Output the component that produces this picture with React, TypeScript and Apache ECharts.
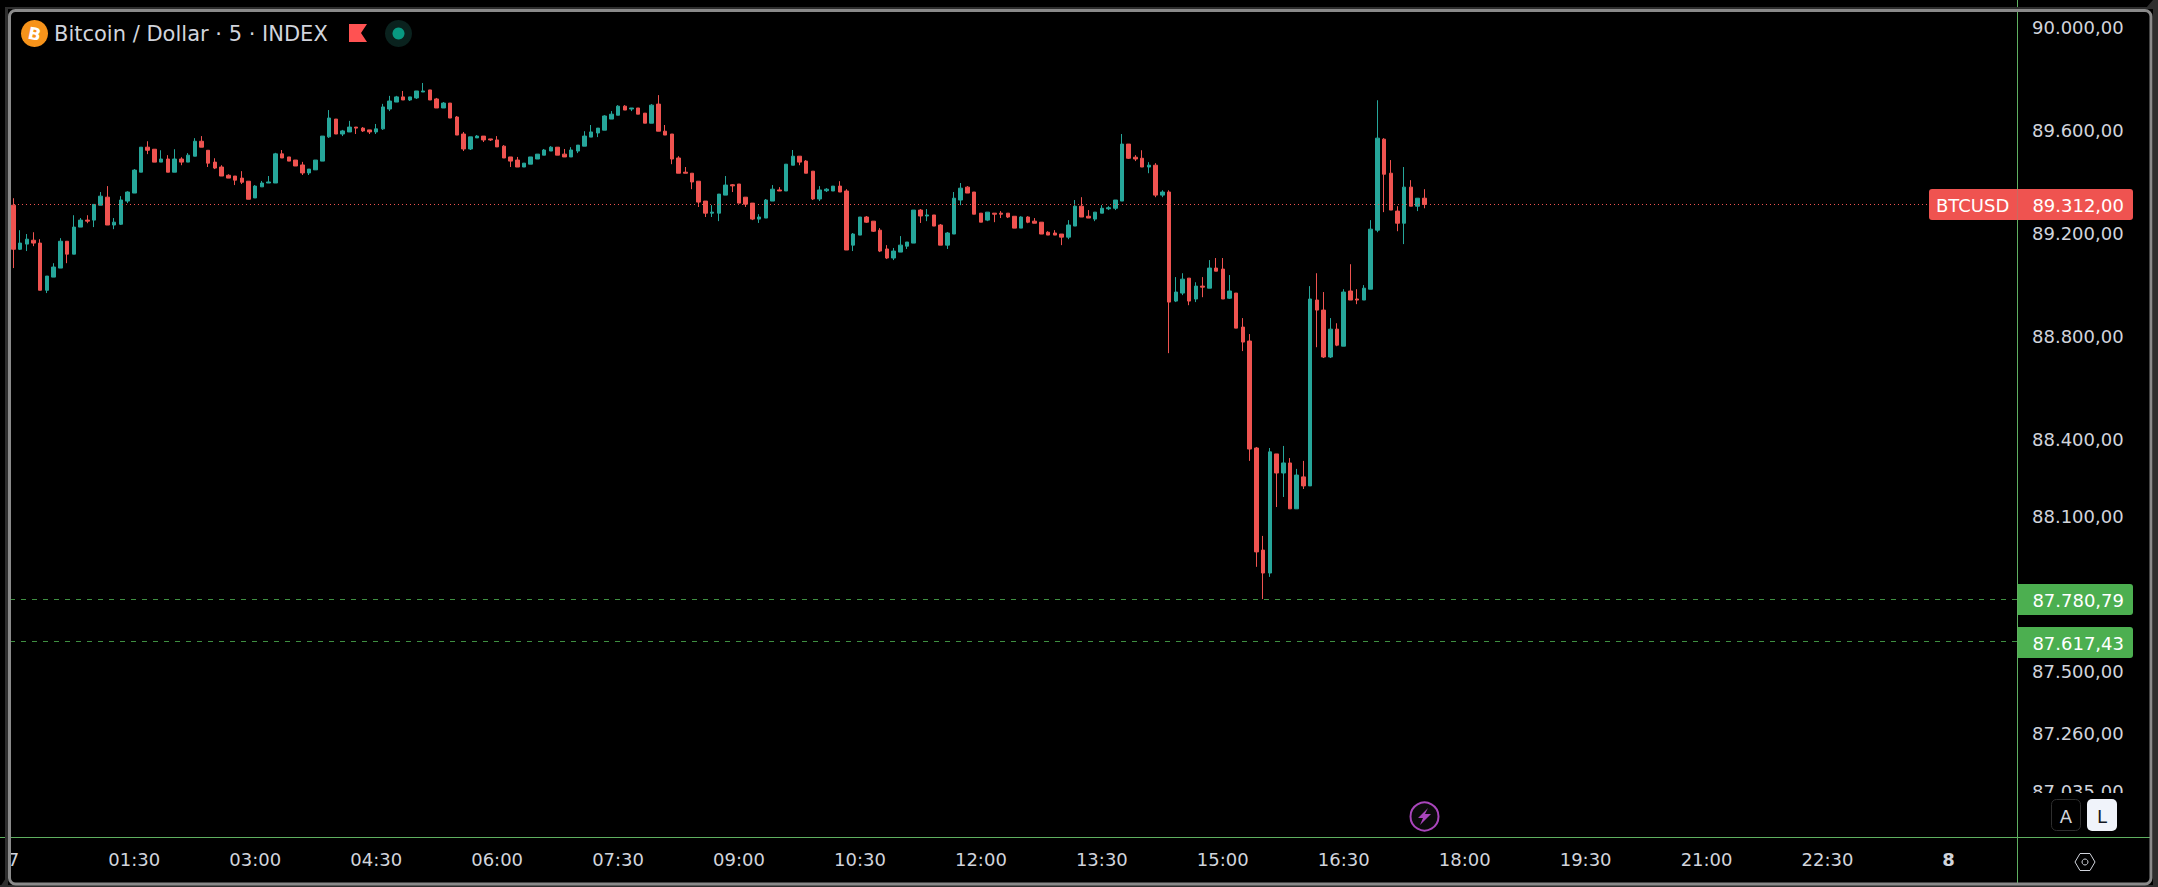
import React, { useEffect, useRef } from "react";
import * as echarts from "echarts";

const opens = [
  89309,89138,89158,89173,89162,88979,89030,89065,89169,89119,
  89224,89251,89251,89309,89340,89232,89235,89325,89356,89437,
  89534,89526,89476,89488,89437,89488,89476,89499,89557,89522,
  89476,89457,89425,89422,89414,89402,89337,89380,89395,89395,
  89508,89496,89484,89465,89434,89446,89480,89574,89643,89585,
  89593,89612,89608,89601,89593,89605,89682,89709,89729,89717,
  89725,89748,89756,89721,89686,89705,89651,89585,89527,89570,
  89577,89566,89562,89538,89496,89484,89457,89468,89488,89503,
  89519,89534,89507,89496,89519,89538,89573,89589,89600,89643,
  89658,89693,89682,89686,89666,89627,89701,89596,89585,89492,
  89437,89433,89402,89325,89278,89278,89348,89388,89391,89340,
  89317,89255,89259,89325,89368,89364,89464,89499,89480,89441,
  89333,89365,89364,89383,89364,89154,89193,89263,89247,89212,
  89139,89104,89127,89150,89162,89290,89267,89271,89232,89154,
  89197,89329,89379,89360,89278,89251,89278,89278,89278,89266,
  89220,89263,89247,89243,89204,89201,89197,89185,89228,89305,
  89266,89255,89278,89295,89297,89325,89546,89495,89491,89457,
  89464,89348,89360,88937,88968,89026,88945,88995,88987,89065,
  89061,88948,88968,88836,88782,88367,87971,87882,88344,88270,
  88309,88131,88255,88220,88941,88902,88720,88828,88762,88976,
  88945,88941,88983,89212,89565,89433,89286,89239,89379,89305,89336,
];
const closes = [
  89138,89162,89177,89162,88979,89034,89069,89169,89119,89224,
  89251,89247,89312,89344,89232,89243,89329,89360,89445,89534,
  89522,89476,89488,89437,89488,89476,89503,89557,89534,89472,
  89453,89422,89414,89406,89398,89332,89383,89395,89399,89508,
  89492,89480,89461,89434,89449,89484,89577,89647,89585,89597,
  89612,89608,89597,89593,89605,89690,89713,89729,89717,89729,
  89752,89752,89717,89686,89705,89647,89581,89527,89574,89577,
  89562,89562,89535,89492,89480,89457,89472,89496,89507,89523,
  89534,89503,89496,89523,89542,89577,89593,89608,89655,89662,
  89693,89678,89686,89662,89627,89697,89596,89581,89488,89433,
  89433,89399,89321,89278,89282,89352,89387,89384,89317,89313,
  89255,89263,89329,89371,89364,89468,89499,89476,89433,89333,
  89368,89371,89383,89360,89135,89197,89263,89243,89208,89131,
  89104,89131,89154,89166,89290,89267,89271,89228,89154,89201,
  89336,89375,89356,89274,89243,89282,89274,89274,89263,89220,
  89263,89243,89239,89197,89193,89193,89185,89232,89305,89263,
  89259,89282,89297,89299,89329,89546,89491,89488,89457,89464,
  89348,89360,88933,88972,89022,88937,88995,88991,89065,89053,
  88945,88976,88832,88778,88363,87964,87882,88352,88270,88309,
  88131,88262,88220,88945,88902,88720,88828,88766,88972,88941,
  88941,88987,89216,89569,89429,89290,89239,89379,89305,89336,89312,
];
const lows = [
  89065,89135,89131,89150,88979,88968,89030,89065,89084,89119,
  89224,89239,89224,89309,89232,89216,89232,89317,89356,89437,
  89507,89476,89476,89437,89437,89464,89476,89499,89534,89457,
  89449,89422,89414,89387,89391,89332,89337,89380,89395,89395,
  89492,89480,89461,89426,89426,89446,89480,89570,89585,89577,
  89593,89585,89593,89585,89585,89601,89674,89709,89717,89713,
  89721,89748,89717,89686,89686,89647,89581,89519,89523,89570,
  89554,89558,89535,89492,89457,89457,89457,89468,89488,89503,
  89519,89503,89496,89496,89511,89538,89573,89573,89600,89643,
  89658,89678,89674,89662,89627,89627,89596,89581,89468,89433,
  89433,89371,89302,89263,89263,89247,89348,89360,89317,89302,
  89251,89240,89259,89325,89364,89364,89464,89464,89433,89329,
  89325,89360,89364,89360,89135,89131,89193,89240,89205,89127,
  89100,89096,89127,89139,89162,89240,89247,89228,89154,89139,
  89197,89309,89356,89274,89243,89247,89243,89259,89259,89220,
  89220,89239,89239,89197,89193,89193,89154,89177,89228,89263,
  89259,89247,89278,89290,89290,89325,89488,89480,89457,89433,
  89340,89340,88735,88933,88960,88921,88933,88952,88987,89053,
  88945,88945,88832,88743,88317,87906,87781,87867,88138,88177,
  88131,88131,88208,88220,88758,88716,88716,88762,88762,88941,
  88925,88941,88983,89204,89282,89290,89208,89158,89305,89286,89297,
];
const highs = [
  89336,89212,89197,89204,89177,89034,89084,89181,89169,89270,
  89259,89270,89312,89360,89383,89259,89344,89363,89449,89534,
  89557,89526,89522,89503,89526,89495,89511,89569,89577,89522,
  89491,89464,89429,89422,89441,89402,89387,89403,89422,89512,
  89523,89496,89484,89477,89449,89484,89577,89678,89643,89601,
  89636,89612,89612,89601,89624,89702,89733,89733,89752,89729,
  89752,89783,89756,89725,89709,89705,89655,89593,89574,89581,
  89577,89566,89577,89542,89496,89496,89472,89496,89507,89527,
  89538,89534,89527,89534,89542,89596,89620,89608,89658,89674,
  89697,89697,89686,89686,89666,89701,89736,89620,89585,89499,
  89457,89433,89402,89325,89309,89352,89422,89391,89391,89340,
  89317,89274,89333,89387,89379,89468,89523,89499,89484,89441,
  89383,89375,89383,89402,89371,89201,89263,89267,89247,89220,
  89154,89143,89189,89166,89290,89294,89294,89271,89236,89205,
  89360,89395,89383,89360,89278,89282,89278,89286,89278,89266,
  89266,89266,89259,89243,89208,89212,89197,89251,89329,89340,
  89290,89282,89309,89305,89329,89585,89546,89503,89522,89476,
  89472,89367,89367,89030,89045,89026,89010,89030,89096,89104,
  89104,89038,88968,88871,88809,88371,88026,88367,88344,88375,
  88328,88286,88317,88995,89045,88972,88871,88851,88983,89080,
  88983,88999,89251,89716,89569,89484,89305,89457,89406,89336,89371,
];

const priceTicks = [90000, 89600, 89200, 88800, 88400, 88100, 87500, 87260, 87035];
const timeTicks: Record<number, string> = {
  0: "7", 18: "01:30", 36: "03:00", 54: "04:30", 72: "06:00", 90: "07:30", 108: "09:00",
  126: "10:30", 144: "12:00", 162: "13:30", 180: "15:00", 198: "16:30", 216: "18:00",
  234: "19:30", 252: "21:00", 270: "22:30", 288: "8",
};
const BAND_COUNT = 299;
const lastPrice = 89312;
const highMark = 87780.79;
const lowMark = 87617.43;
const symbolName = "BTCUSD";
const titleText = "Bitcoin / Dollar · 5 · INDEX";

const UP = "#26a69a";
const DOWN = "#ef5350";
const GREEN = "#4caf50";
const LINE_GREEN = "#5fb060";
const TEXT = "#d1d4dc";
const PURPLE = "#a945bb";
const EDGE = "#2e2e2e";
const FONT = "'DejaVu Sans', Verdana, sans-serif";

const fmt = (v: number) => {
  const [a, b] = v.toFixed(2).split(".");
  return a.replace(/\B(?=(\d{3})+$)/g, ".") + "," + b;
};

export default function App() {
  const ref = useRef<HTMLDivElement>(null);
  useEffect(() => {
    if (!ref.current) return;
    const chart = echarts.init(ref.current, undefined, { renderer: "svg" });
    const categories = Array.from({ length: BAND_COUNT }, (_, i) => String(i));
    const candles = opens.map((o, i) => [o, closes[i], lows[i], highs[i]]);
    const Z = 50;
    const txt = (x: number, y: number, text: string, extra: any = {}) => ({
      type: "text", x, y, z: Z + 2,
      style: { text, fill: "#fff", font: `18px ${FONT}`, textVerticalAlign: "middle", ...extra },
    });
    chart.setOption({
      animation: false,
      backgroundColor: "#000",
      grid: { left: 10, top: 9, width: 2009, height: 828, containLabel: false },
      xAxis: {
        type: "category",
        data: categories,
        boundaryGap: true,
        axisLine: { show: false },
        axisTick: { show: false },
        splitLine: { show: false },
        axisLabel: {
          interval: (i: number) => timeTicks[i] !== undefined,
          formatter: (v: string) => {
            const t = timeTicks[Number(v)] ?? "";
            return t === "8" ? `{b|${t}}` : t;
          },
          color: TEXT,
          fontFamily: FONT,
          fontSize: 18,
          margin: 13,
          hideOverlap: false,
          rich: { b: { fontWeight: "bold", fontSize: 18, fontFamily: FONT, color: TEXT } },
        },
      },
      yAxis: {
        type: "value",
        position: "right",
        min: 86858,
        max: 90070,
        axisLine: { show: false },
        axisTick: { show: false },
        splitLine: { show: false },
        axisLabel: {
          customValues: priceTicks,
          formatter: (v: number) => fmt(v),
          color: TEXT,
          fontFamily: FONT,
          fontSize: 18,
          margin: 13,
          padding: [0, 0, 2, 0],
        },
      },
      series: [
        {
          type: "candlestick",
          data: candles,
          barWidth: 4,
          clip: true,
          itemStyle: { color: UP, color0: DOWN, borderColor: UP, borderColor0: DOWN, borderWidth: 1 },
          markLine: {
            silent: true,
            symbol: "none",
            label: { show: false },
            data: [
              { yAxis: lastPrice, lineStyle: { color: DOWN, type: [1, 3], width: 1 } },
              { yAxis: highMark, lineStyle: { color: "#3f8f42", type: [5, 6], width: 1 } },
              { yAxis: lowMark, lineStyle: { color: "#3f8f42", type: [5, 6], width: 1 } },
            ],
          },
        },
      ],
      graphic: [
        { type: "rect", z: Z, shape: { x: 2019, y: 793, width: 130, height: 43 }, style: { fill: "#000" } },
        { type: "line", z: Z + 1, shape: { x1: 0, y1: 837.5, x2: 2150, y2: 837.5 }, style: { stroke: LINE_GREEN, lineWidth: 1 } },
        { type: "line", z: Z + 1, shape: { x1: 2017.5, y1: 0, x2: 2017.5, y2: 884 }, style: { stroke: LINE_GREEN, lineWidth: 1 } },
        { type: "rect", z: Z, shape: { x: 1929, y: 189, width: 204, height: 31, r: 3 }, style: { fill: DOWN } },
        { type: "line", z: Z + 1, shape: { x1: 2017.5, y1: 189, x2: 2017.5, y2: 220 }, style: { stroke: "#c86a60", lineWidth: 1 } },
        txt(1936, 205, symbolName),
        txt(2124, 205, fmt(lastPrice), { textAlign: "right" }),
        { type: "rect", z: Z, shape: { x: 2018, y: 584, width: 115, height: 31, r: [0, 3, 3, 0] }, style: { fill: GREEN } },
        txt(2124, 600, fmt(highMark), { textAlign: "right" }),
        { type: "rect", z: Z, shape: { x: 2018, y: 627, width: 115, height: 31, r: [0, 3, 3, 0] }, style: { fill: GREEN } },
        txt(2124, 643, fmt(lowMark), { textAlign: "right" }),
        { type: "circle", z: Z, shape: { cx: 34.5, cy: 33.5, r: 13.5 }, style: { fill: "#f7931a" } },
        { type: "text", z: Z + 1, x: 34.5, y: 34, rotation: -0.2, style: { text: "B", fill: "#fff", font: `bold 17px ${FONT}`, textAlign: "center", textVerticalAlign: "middle" } },
        txt(54, 33.5, titleText, { fill: TEXT, font: `21px ${FONT}` }),
        { type: "polygon", z: Z, shape: { points: [[349, 24], [367, 24], [361, 33], [367, 42], [349, 42]] }, style: { fill: "#ff5252" } },
        { type: "circle", z: Z, shape: { cx: 398.5, cy: 33.5, r: 13.5 }, style: { fill: "#0a221e" } },
        { type: "circle", z: Z, shape: { cx: 398.5, cy: 33.5, r: 6 }, style: { fill: "#089981" } },
        { type: "circle", z: Z, shape: { cx: 1424.5, cy: 816.5, r: 14 }, style: { fill: "#0a0a0a", stroke: PURPLE, lineWidth: 2 } },
        { type: "polygon", z: Z, shape: { points: [[1428, 808], [1418, 818], [1423, 818], [1420, 825], [1431, 814], [1425, 814]] }, style: { fill: PURPLE } },
        { type: "rect", z: Z + 1, shape: { x: 2051.5, y: 799.5, width: 29, height: 31, r: 5 }, style: { fill: "#000", stroke: "#2e2e2e", lineWidth: 1 } },
        txt(2066, 816, "A", { fill: TEXT, textAlign: "center" }),
        { type: "rect", z: Z + 1, shape: { x: 2087, y: 799, width: 30, height: 32, r: 5 }, style: { fill: "#f0f3fa" } },
        txt(2102, 816, "L", { fill: "#131722", textAlign: "center" }),
        { type: "polygon", z: Z, shape: { points: [[2075, 862], [2080, 853.5], [2090, 853.5], [2095, 862], [2090, 870.5], [2080, 870.5]] }, style: { fill: "none", stroke: TEXT, lineWidth: 1 } },
        { type: "circle", z: Z, shape: { cx: 2085, cy: 862, r: 3 }, style: { fill: "none", stroke: TEXT, lineWidth: 1 } },
        // dark window edge
        { type: "rect", z: Z + 3, shape: { x: 5, y: 7, width: 3, height: 880 }, style: { fill: EDGE } },
        { type: "rect", z: Z + 3, shape: { x: 5, y: 7, width: 2148, height: 2 }, style: { fill: EDGE } },
        { type: "rect", z: Z + 3, shape: { x: 2153, y: 0, width: 5, height: 887 }, style: { fill: EDGE } },
        { type: "rect", z: Z + 3, shape: { x: 0, y: 885, width: 2158, height: 2 }, style: { fill: EDGE } },
        { type: "polygon", z: Z + 3, shape: { points: [[0, 887], [6, 878], [8, 887]] }, style: { fill: EDGE } },
        { type: "polygon", z: Z + 3, shape: { points: [[2146, 8], [2153, 0], [2153, 9]] }, style: { fill: EDGE } },
        // light window frame
        { type: "rect", z: Z + 4, shape: { x: 9.5, y: 10.5, width: 2141.5, height: 873.5, r: 6 }, style: { fill: "none", stroke: "#8a8a8a", lineWidth: 3 } },
      ],
    });
    return () => chart.dispose();
  }, []);
  return (
    <div
      ref={ref}
      style={{ position: "fixed", left: 0, top: 0, width: 2158, height: 887, background: "#000" }}
    />
  );
}
